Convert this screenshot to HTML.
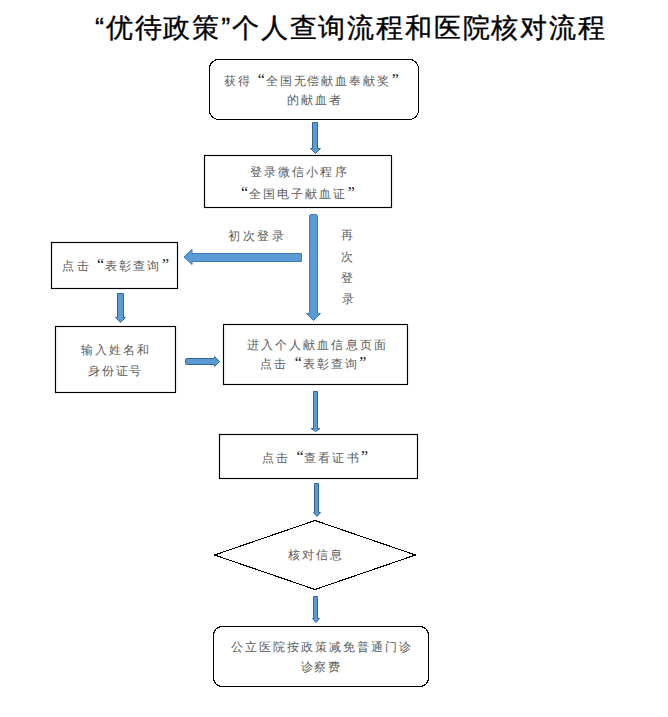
<!DOCTYPE html>
<html><head><meta charset="utf-8"><style>
html,body{margin:0;padding:0;background:#fff;}
body{width:668px;height:717px;position:relative;overflow:hidden;}
.tx{position:absolute;white-space:nowrap;font-family:"Liberation Sans",sans-serif;line-height:1;color:#5a5a5a;}
.ql,.qr{color:#222;display:inline-block;letter-spacing:0;box-sizing:border-box;font-family:"Liberation Serif",serif;font-weight:normal;font-size:16px;line-height:13px;}
.ql{text-align:right;padding-right:0.8px;}
.qr{text-align:left;padding-left:0.5px;}
#t0{color:#000;-webkit-text-stroke:0.35px #000;}
</style></head><body>
<svg width="668" height="717" viewBox="0 0 668 717" style="position:absolute;left:0;top:0">
<g fill="none" stroke="#000" stroke-width="1.15">
<rect x="209.5" y="59.5" width="209" height="60" rx="9" ry="9" shape-rendering="crispEdges"/>
<rect x="204.5" y="155.5" width="187" height="52"/>
<rect x="51.5" y="242.5" width="126" height="46"/>
<rect x="55.5" y="326.5" width="120" height="66"/>
<rect x="223.5" y="324.5" width="184" height="60"/>
<rect x="219.5" y="434.5" width="198" height="44"/>
<path d="M214.5 555 L315 520.5 L415.5 555 L315 589.5 Z" stroke-width="1.1" shape-rendering="crispEdges"/>
<rect x="213.5" y="626.5" width="215" height="60" rx="8.5" ry="8.5" shape-rendering="crispEdges"/>
</g>
<path d="M312.5 122.5 H317.5 V148.5 H320.5 L315.5 153.5 L310.5 148.5 H312.5 Z" fill="#5b9bd5" stroke="#34679a" stroke-width="1" stroke-linejoin="miter"/>
<path d="M310.5 214.5 H316.5 L317.5 215.5 V313.5 H320.5 L313.5 320.5 L306.5 313.5 H309.5 V215.5 Z" fill="#5b9bd5" stroke="#3a7abd" stroke-width="1"/>
<path d="M117.5 293.5 H123.5 V317.5 H125.5 L120.5 322.5 L115.5 317.5 H117.5 Z" fill="#5b9bd5" stroke="#34679a" stroke-width="1" stroke-linejoin="miter"/>
<path d="M313.5 391.5 H317.5 V428.5 H320 L315.5 431.5 L311 428.5 H313.5 Z" fill="#5b9bd5" stroke="#34679a" stroke-width="1" stroke-linejoin="miter"/>
<path d="M314.5 483.5 H318.5 V512.5 H320.5 L317.0 516.5 L313.5 512.5 H314.5 Z" fill="#5b9bd5" stroke="#34679a" stroke-width="1" stroke-linejoin="miter"/>
<path d="M313.5 596.5 H317.5 V618.5 H319.5 L316.0 622.5 L312.5 618.5 H313.5 Z" fill="#5b9bd5" stroke="#34679a" stroke-width="1" stroke-linejoin="miter"/>
<path d="M301.5 253.5 V261.5 H192 V264.5 L184 257 L192 249.5 V253.5 Z" fill="#5b9bd5" stroke="#3a7abd" stroke-width="1"/>
<path d="M186.5 358.5 H214.5 V356.5 L219.5 361.5 L214.5 366.5 V364.5 H186.5 Q185.5 364.5 185.5 363.5 V359.5 Q185.5 358.5 186.5 358.5 Z" fill="#5b9bd5" stroke="#34679a" stroke-width="1"/>
</svg>
<div class="tx" id="t0" style="left:95.00px;top:14.75px;font-size:27px;letter-spacing:1.83px">“优待政策”个人查询流程和医院核对流程</div><div class="tx" id="t1a" style="left:223.80px;top:72.70px;font-size:12px;letter-spacing:1.95px">获得<span class="ql" style="width:13.95px">“</span>全国无偿献血奉献奖<span class="qr" style="width:13.95px">”</span></div><div class="tx" id="t1b" style="left:286.60px;top:94.30px;font-size:12px;letter-spacing:2.04px">的献血者</div><div class="tx" id="t2a" style="left:249.80px;top:165.90px;font-size:12px;letter-spacing:2.13px">登录微信小程序</div><div class="tx" id="t2b" style="left:234.80px;top:186.10px;font-size:12px;letter-spacing:2.05px"><span class="ql" style="width:14.05px">“</span>全国电子献血证<span class="qr" style="width:14.05px">”</span></div><div class="tx" id="t3" style="left:228.00px;top:230.05px;font-size:12px;letter-spacing:2.51px">初次登录</div><div class="tx" id="t5" style="left:62.40px;top:257.50px;font-size:12px;letter-spacing:2.16px">点击<span class="ql" style="width:14.16px">“</span>表彰查询<span class="qr" style="width:14.16px">”</span></div><div class="tx" id="t6a" style="left:81.00px;top:344.00px;font-size:12px;letter-spacing:2.05px">输入姓名和</div><div class="tx" id="t6b" style="left:88.00px;top:365.15px;font-size:12px;letter-spacing:1.83px">身份证号</div><div class="tx" id="t7a" style="left:246.60px;top:338.90px;font-size:12px;letter-spacing:2.14px">进入个人献血信息页面</div><div class="tx" id="t7b" style="left:260.40px;top:356.15px;font-size:12px;letter-spacing:2.06px">点击<span class="ql" style="width:14.06px">“</span>表彰查询<span class="qr" style="width:14.06px">”</span></div><div class="tx" id="t8" style="left:262.20px;top:449.80px;font-size:12px;letter-spacing:2.06px">点击<span class="ql" style="width:14.06px">“</span>查看证书<span class="qr" style="width:14.06px">”</span></div><div class="tx" id="t9" style="left:287.60px;top:548.80px;font-size:12px;letter-spacing:2.24px">核对信息</div><div class="tx" id="t10a" style="left:230.80px;top:641.10px;font-size:12px;letter-spacing:2.05px">公立医院按政策减免普通门诊</div><div class="tx" id="t10b" style="left:301.00px;top:660.85px;font-size:12px;letter-spacing:1.40px">诊察费</div><div class="tx" id="t4a" style="left:341.00px;top:228.80px;font-size:12px;letter-spacing:0.00px">再</div><div class="tx" id="t4b" style="left:341.00px;top:251.00px;font-size:12px;letter-spacing:0.00px">次</div><div class="tx" id="t4c" style="left:341.00px;top:272.40px;font-size:12px;letter-spacing:0.00px">登</div><div class="tx" id="t4d" style="left:342.00px;top:292.60px;font-size:12px;letter-spacing:0.00px">录</div>
</body></html>
